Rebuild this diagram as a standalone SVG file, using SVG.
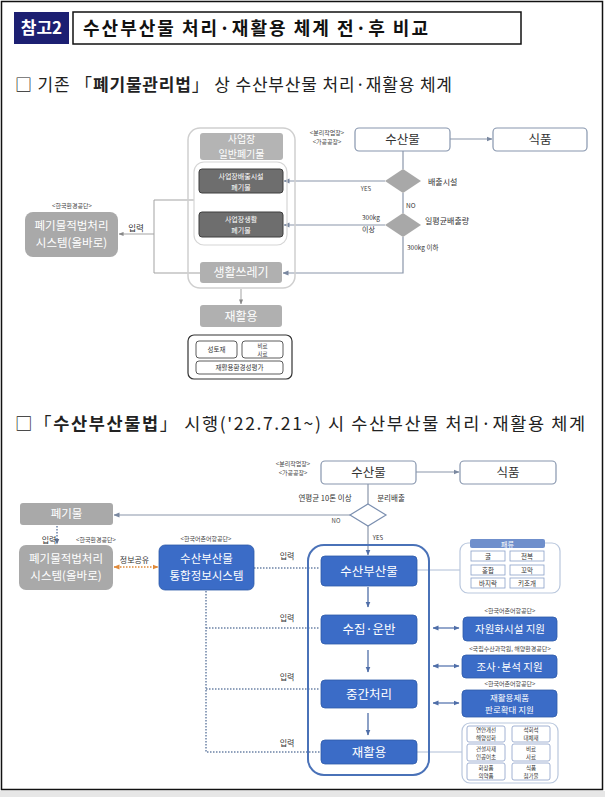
<svg xmlns="http://www.w3.org/2000/svg" width="605" height="797" viewBox="0 0 605 797">
<defs>
<style>
text{font-family:"Noto Sans CJK KR","Noto Sans",sans-serif;}
.w{fill:#fff;text-anchor:middle;}
.k{fill:#333;text-anchor:middle;}
.st{fill:#333;}
.s{font-size:6px;fill:#444;text-anchor:middle;}
.t{font-size:5.5px;fill:#333;text-anchor:middle;}
.gbox{fill:#a9a9a9;}
.dbox{fill:#6e6e6e;stroke:#3e3e3e;stroke-width:1;}
.bbox{fill:#3b6cc7;stroke:#2f5aa8;stroke-width:0.8;}
.wbox{fill:#fff;stroke:#8796ae;stroke-width:1.2;}
.ln{fill:none;stroke:#8a96aa;stroke-width:1.2;}
.lg{fill:none;stroke:#a3a3a3;stroke-width:1;}
.ll{fill:none;stroke:#aebdd6;stroke-width:1;}
.dot{fill:none;stroke:#6c82a6;stroke-width:1.5;stroke-dasharray:1.5 1.5;}
.sb{fill:#fff;stroke:#8aa0c8;stroke-width:0.8;}
.grp{fill:none;stroke:#b9c7dd;stroke-width:1.2;}
</style>
<marker id="ah" viewBox="0 0 6 6" refX="5.5" refY="3" markerUnits="userSpaceOnUse" markerWidth="6" markerHeight="6" orient="auto-start-reverse"><path d="M0,0.5 L6,3 L0,5.5 z" fill="#7a88a0"/></marker>
<marker id="ahg" viewBox="0 0 6 6" refX="5.5" refY="3" markerUnits="userSpaceOnUse" markerWidth="5" markerHeight="5" orient="auto-start-reverse"><path d="M0,0.5 L6,3 L0,5.5 z" fill="#888"/></marker>
<marker id="ahb" viewBox="0 0 6 6" refX="5.5" refY="3" markerUnits="userSpaceOnUse" markerWidth="6" markerHeight="6" orient="auto-start-reverse"><path d="M0,0.5 L6,3 L0,5.5 z" fill="#4f6ea8"/></marker>
<marker id="ahd" viewBox="0 0 6 6" refX="5.5" refY="3" markerUnits="userSpaceOnUse" markerWidth="6" markerHeight="6" orient="auto-start-reverse"><path d="M0,0.5 L6,3 L0,5.5 z" fill="#5d6f8e"/></marker>
<marker id="aho" viewBox="0 0 6 6" refX="5.5" refY="3" markerUnits="userSpaceOnUse" markerWidth="6" markerHeight="6" orient="auto-start-reverse"><path d="M0,0.5 L6,3 L0,5.5 z" fill="#e08a3a"/></marker>
</defs>

<rect x="0" y="0" width="605" height="797" fill="#fff"/>
<rect x="0" y="791" width="605" height="6" fill="#e7e7e7"/>
<rect x="1.5" y="1.5" width="601" height="788" fill="none" stroke="#111" stroke-width="1.5"/>

<g id="header">
<rect x="14" y="12" width="55" height="32" fill="#1c1f72"/>
<text x="41.5" y="34" font-size="17" font-weight="bold" class="w">참고2</text>
<rect x="73" y="12" width="448" height="32" fill="#fff" stroke="#111" stroke-width="1.5"/>
<text x="83" y="34.5" font-size="18" font-weight="bold" fill="#111" textLength="345" lengthAdjust="spacing">수산부산물 처리·재활용 체계 전·후 비교</text>
</g>

<g id="section1-title">
<text x="15" y="91" font-size="17" fill="#222" textLength="437" lengthAdjust="spacing">□ 기존 「<tspan font-weight="bold">폐기물관리법</tspan>」 상 수산부산물 처리·재활용 체계</text>
</g>
<g id="section2-title">
<text x="15" y="430" font-size="17.5" fill="#222" textLength="570" lengthAdjust="spacing">□「<tspan font-weight="bold">수산부산물법</tspan>」 시행('22.7.21~) 시 수산부산물 처리·재활용 체계</text>
</g>

<!-- ===== upper diagram connectors ===== -->
<g id="connectors-upper">
<path class="lg" d="M194,200 H154 V273 H200"/>
<path class="lg" d="M154,234 H119" marker-end="url(#ahg)"/>
<path class="ln" d="M450,139 H492" marker-end="url(#ah)"/>
<path class="ln" d="M403,151 V169"/>
<path class="ln" d="M385,181 H284" marker-end="url(#ah)"/>
<path class="ln" d="M403,193 V213"/>
<path class="ln" d="M385,225 H284" marker-end="url(#ah)"/>
<path class="ln" d="M403,237 V273 H283" marker-end="url(#ah)"/>
<path class="lg" d="M241,289 V304" marker-end="url(#ahg)"/>
</g>

<g id="u-container">
<rect x="188" y="128" width="107" height="160" rx="12" fill="none" stroke="#cfcfcf" stroke-width="1.5"/>
<rect x="194" y="162" width="93" height="83" rx="10" fill="none" stroke="#d6d6d6" stroke-width="1.2"/>
</g>
<g id="u-general">
<rect x="200" y="133" width="83" height="27" rx="3" fill="#b4b4b4"/>
<text x="241.5" y="143" font-size="10" class="w">사업장</text>
<text x="241.5" y="157.5" font-size="10" class="w">일반폐기물</text>
</g>
<g id="u-facility">
<rect x="199" y="169" width="84" height="24" rx="3" class="dbox"/>
<text x="241" y="179" font-size="7" class="w">사업장배출시설</text>
<text x="241" y="189.5" font-size="7" class="w">폐기물</text>
</g>
<g id="u-living">
<rect x="199" y="212" width="84" height="25" rx="3" class="dbox"/>
<text x="241" y="222" font-size="7" class="w">사업장생활</text>
<text x="241" y="232.5" font-size="7" class="w">폐기물</text>
</g>
<g id="u-trash">
<rect x="200" y="262" width="82" height="21" rx="3" fill="#b0b0b0"/>
<text x="241" y="277" font-size="12" class="w">생활쓰레기</text>
</g>
<g id="u-recycle">
<rect x="200" y="305" width="82" height="22" rx="3" fill="#b0b0b0"/>
<text x="241" y="320.5" font-size="12" class="w">재활용</text>
</g>
<g id="u-uses">
<rect x="188" y="335" width="104" height="44" rx="6" fill="#fff" stroke="#333" stroke-width="1.2"/>
<rect x="196" y="341" width="41" height="17" rx="3" fill="#fff" stroke="#333" stroke-width="0.8"/>
<text x="216.5" y="352" font-size="6.5" class="k">성토재</text>
<rect x="242" y="341" width="41" height="17" rx="3" fill="#fff" stroke="#333" stroke-width="0.8"/>
<text x="262.5" y="347.5" class="t">비료</text>
<text x="262.5" y="355.5" class="t">사료</text>
<rect x="196" y="361" width="87" height="13" rx="3" fill="#fff" stroke="#333" stroke-width="0.8"/>
<text x="239.5" y="370" font-size="6.5" class="k">재활용환경성평가</text>
</g>
<g id="u-allbaro">
<text x="72" y="208" class="s">&lt;한국환경공단&gt;</text>
<rect x="25" y="212" width="93" height="45" rx="8" class="gbox"/>
<text x="71.5" y="229.5" font-size="11.5" class="w">폐기물적법처리</text>
<text x="71.5" y="246.5" font-size="11.5" class="w">시스템(올바로)</text>
<text x="136" y="231" font-size="8.5" class="k">입력</text>
</g>
<g id="u-seafood">
<text x="327" y="135" class="s">&lt;분리작업장&gt;</text>
<text x="327" y="144" class="s">&lt;가공공장&gt;</text>
<rect x="355" y="128" width="95" height="23" rx="4" class="wbox"/>
<text x="402.5" y="144" font-size="12.5" class="k">수산물</text>
</g>
<g id="u-food">
<rect x="493" y="128" width="94" height="23" rx="4" class="wbox"/>
<text x="540" y="144" font-size="12.5" class="k">식품</text>
</g>
<g id="u-dec1">
<polygon points="403,169 421,181 403,193 385,181" fill="#a8a8a8"/>
<text x="428" y="185" font-size="8" class="st">배출시설</text>
<text x="366" y="191" class="s">YES</text>
<text x="406" y="208" font-size="6.5" class="st">NO</text>
</g>
<g id="u-dec2">
<polygon points="403,213 421,225 403,237 385,225" fill="#a8a8a8"/>
<text x="425" y="224" font-size="8" class="st">일평균배출량</text>
<text x="362" y="220" font-size="6.5" class="st">300kg</text>
<text x="362" y="232" font-size="7" class="st">이상</text>
<text x="407" y="250" font-size="6.5" class="st">300kg 이하</text>
</g>

<!-- ===== lower diagram connectors ===== -->
<g id="connectors-lower">
<path class="ln" d="M416,472 H459" marker-end="url(#ah)"/>
<path class="ln" d="M368,484 V504"/>
<path class="ln" d="M350,515 H114" marker-end="url(#ah)"/>
<path class="ln" d="M368,526 V555" marker-end="url(#ahb)"/>
<path class="dot" d="M57,526 V544" marker-end="url(#ahd)"/>
<path fill="none" stroke="#e08a3a" stroke-width="1.5" stroke-dasharray="1.5 1.5" d="M114,567 H158" marker-start="url(#aho)" marker-end="url(#aho)"/>
<path class="dot" d="M254,568 H320"/>
<path class="dot" d="M206,591 V752 H320"/>
<path class="dot" d="M206,628 H320"/>
<path class="dot" d="M206,689 H320"/>
<path fill="none" stroke="#4f6ea8" stroke-width="1.3" d="M368,587 V607" marker-end="url(#ahb)"/>
<path fill="none" stroke="#4f6ea8" stroke-width="1.3" d="M368,650 V672" marker-end="url(#ahb)"/>
<path fill="none" stroke="#4f6ea8" stroke-width="1.3" d="M368,713 V735" marker-end="url(#ahb)"/>
<path class="ll" d="M417,570 H460"/>
<path class="ll" d="M417,752 H462"/>
<path fill="none" stroke="#5a78b0" stroke-width="1.3" d="M433,628 H459" marker-start="url(#ahb)" marker-end="url(#ahb)"/>
<path fill="none" stroke="#5a78b0" stroke-width="1.3" d="M433,666 H459" marker-start="url(#ahb)" marker-end="url(#ahb)"/>
<path fill="none" stroke="#5a78b0" stroke-width="1.3" d="M433,703 H459" marker-start="url(#ahb)" marker-end="url(#ahb)"/>
</g>

<g id="l-seafood">
<text x="293" y="466" class="s">&lt;분리작업장&gt;</text>
<text x="293" y="475" class="s">&lt;가공공장&gt;</text>
<rect x="321" y="461" width="95" height="23" rx="4" class="wbox"/>
<text x="368.5" y="477" font-size="12.5" class="k">수산물</text>
</g>
<g id="l-food">
<rect x="460" y="461" width="96" height="23" rx="4" class="wbox"/>
<text x="508" y="477" font-size="12.5" class="k">식품</text>
</g>
<g id="l-decision">
<polygon points="368,504 386,515 368,526 350,515" fill="#fff" stroke="#7b8fb0" stroke-width="1.2"/>
<text x="325" y="501" font-size="7.5" class="k">연평균 10톤 이상</text>
<text x="391" y="501" font-size="7.5" class="k">분리배출</text>
<text x="336" y="523" class="s">NO</text>
<text x="378" y="540" font-size="6" class="k">YES</text>
</g>
<g id="l-waste">
<rect x="20" y="503" width="93" height="22" rx="3" class="gbox"/>
<text x="66.5" y="518" font-size="11.5" class="w">폐기물</text>
<text x="49" y="543" font-size="8" class="k">입력</text>
</g>
<g id="l-allbaro">
<text x="96" y="542" class="s">&lt;한국환경공단&gt;</text>
<rect x="19" y="545" width="94" height="45" rx="7" class="gbox"/>
<text x="66" y="563" font-size="11.5" class="w">폐기물적법처리</text>
<text x="66" y="580" font-size="11.5" class="w">시스템(올바로)</text>
<text x="134.5" y="563" font-size="8" class="k">정보공유</text>
</g>
<g id="l-infosys">
<text x="206" y="541" class="s">&lt;한국어촌어항공단&gt;</text>
<rect x="159" y="545" width="95" height="45" rx="6" class="bbox"/>
<text x="206.5" y="563" font-size="11.5" class="w">수산부산물</text>
<text x="206.5" y="580" font-size="11.5" class="w">통합정보시스템</text>
</g>
<g id="l-input-labels">
<text x="287" y="559" font-size="8" class="k">입력</text>
<text x="287" y="621" font-size="8" class="k">입력</text>
<text x="287" y="680" font-size="8" class="k">입력</text>
<text x="287" y="746" font-size="8" class="k">입력</text>
</g>
<g id="l-container">
<rect x="308" y="545" width="121" height="230" rx="16" fill="none" stroke="#4a72b8" stroke-width="2"/>
</g>
<g id="l-byproduct">
<rect x="321" y="556" width="96" height="30" rx="4" class="bbox"/>
<text x="369" y="575.5" font-size="12.5" class="w">수산부산물</text>
</g>
<g id="l-collect">
<rect x="321" y="615" width="96" height="29" rx="4" class="bbox"/>
<text x="369" y="634" font-size="12.5" class="w">수집·운반</text>
</g>
<g id="l-middle">
<rect x="321" y="680" width="96" height="28" rx="4" class="bbox"/>
<text x="369" y="698.5" font-size="12.5" class="w">중간처리</text>
</g>
<g id="l-recycle">
<rect x="321" y="740" width="96" height="24" rx="4" class="bbox"/>
<text x="369" y="757" font-size="12.5" class="w">재활용</text>
</g>
<g id="l-shellfish">
<rect x="460" y="543" width="100" height="50" rx="8" class="grp"/>
<rect x="470" y="539" width="75" height="9" rx="2" fill="#6f8fcc"/>
<text x="507.5" y="546.5" font-size="7" class="w">패류</text>
<rect x="471" y="551" width="34" height="10" class="sb"/>
<text x="488" y="558.5" font-size="6.5" class="k">굴</text>
<rect x="510" y="551" width="34" height="10" class="sb"/>
<text x="527" y="558.5" font-size="6.5" class="k">전복</text>
<rect x="471" y="565" width="34" height="10" class="sb"/>
<text x="488" y="572.5" font-size="6.5" class="k">홍합</text>
<rect x="510" y="565" width="34" height="10" class="sb"/>
<text x="527" y="572.5" font-size="6.5" class="k">꼬막</text>
<rect x="471" y="578" width="34" height="10" class="sb"/>
<text x="488" y="585.5" font-size="6.5" class="k">바지락</text>
<rect x="510" y="578" width="34" height="10" class="sb"/>
<text x="527" y="585.5" font-size="6.5" class="k">키조개</text>
</g>
<g id="l-support1">
<text x="510" y="613" class="s">&lt;한국어촌어항공단&gt;</text>
<rect x="463" y="617" width="94" height="24" rx="4" class="bbox"/>
<text x="510" y="633" font-size="10.5" class="w">자원화시설 지원</text>
</g>
<g id="l-support2">
<text x="510" y="651" class="s">&lt;국립수산과학원, 해양환경공단&gt;</text>
<rect x="462" y="655" width="95" height="23" rx="4" class="bbox"/>
<text x="509.5" y="670.5" font-size="10.5" class="w">조사·분석 지원</text>
</g>
<g id="l-support3">
<text x="510" y="686" class="s">&lt;한국어촌어항공단&gt;</text>
<rect x="462" y="690" width="95" height="27" rx="4" class="bbox"/>
<text x="509.5" y="700.5" font-size="8.5" class="w">재활용제품</text>
<text x="509.5" y="713" font-size="8.5" class="w">판로확대 지원</text>
</g>
<g id="l-uses">
<rect x="462" y="723" width="96" height="60" rx="8" class="grp"/>
<rect x="467" y="726" width="38" height="16" rx="2" class="sb"/>
<text x="486" y="732" class="t">연안개선</text>
<text x="486" y="740" class="t">해양정화</text>
<rect x="512" y="726" width="38" height="16" rx="2" class="sb"/>
<text x="531" y="732" class="t">석회석</text>
<text x="531" y="740" class="t">대체재</text>
<rect x="467" y="744" width="38" height="17" rx="2" class="sb"/>
<text x="486" y="751" class="t">건설자재</text>
<text x="486" y="759" class="t">인공어초</text>
<rect x="512" y="744" width="38" height="17" rx="2" class="sb"/>
<text x="531" y="751" class="t">비료</text>
<text x="531" y="759" class="t">사료</text>
<rect x="467" y="763" width="38" height="17" rx="2" class="sb"/>
<text x="486" y="770" class="t">화장품</text>
<text x="486" y="778" class="t">의약품</text>
<rect x="512" y="763" width="38" height="17" rx="2" class="sb"/>
<text x="531" y="770" class="t">식품</text>
<text x="531" y="778" class="t">첨가물</text>
</g>
</svg>
